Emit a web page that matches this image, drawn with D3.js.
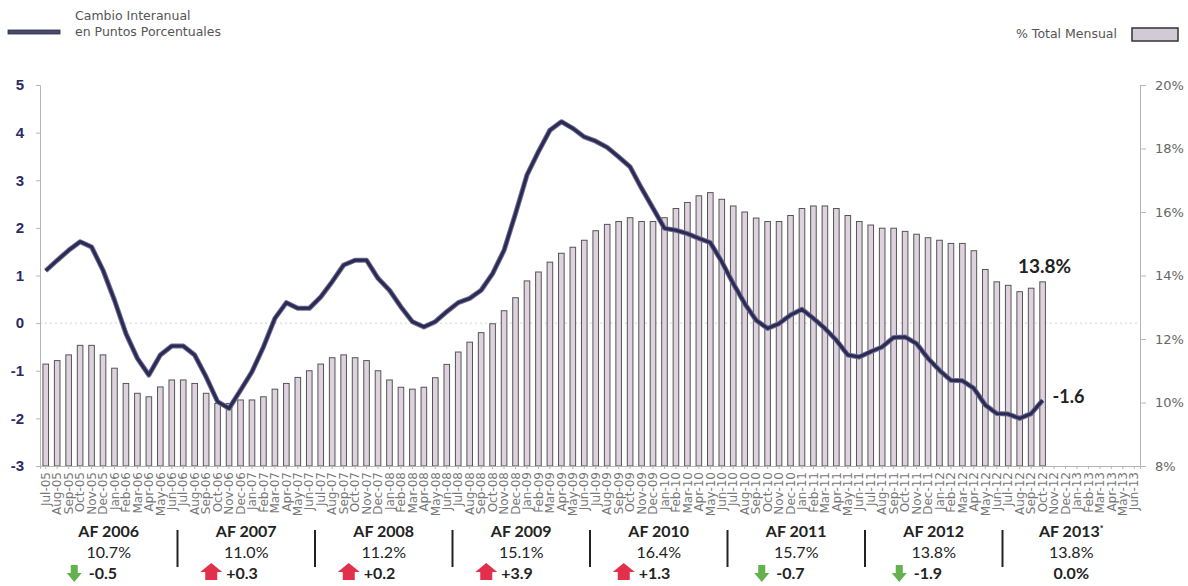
<!DOCTYPE html>
<html>
<head>
<meta charset="utf-8">
<script src="https://cdn.jsdelivr.net/npm/d3@7"></script>
<style>
  body { margin: 0; background: #fff; }
  svg { font-family: "Lato", "Noto Sans", sans-serif; }
</style>
</head>
<body>
<svg id="chart" width="1188" height="586"></svg>
<script>
var months = [
  "Jul-05","Aug-05","Sep-05","Oct-05","Nov-05","Dec-05","Jan-06","Feb-06","Mar-06","Apr-06","May-06","Jun-06",
  "Jul-06","Aug-06","Sep-06","Oct-06","Nov-06","Dec-06","Jan-07","Feb-07","Mar-07","Apr-07","May-07","Jun-07",
  "Jul-07","Aug-07","Sep-07","Oct-07","Nov-07","Dec-07","Jan-08","Feb-08","Mar-08","Apr-08","May-08","Jun-08",
  "Jul-08","Aug-08","Sep-08","Oct-08","Nov-08","Dec-08","Jan-09","Feb-09","Mar-09","Apr-09","May-09","Jun-09",
  "Jul-09","Aug-09","Sep-09","Oct-09","Nov-09","Dec-09","Jan-10","Feb-10","Mar-10","Apr-10","May-10","Jun-10",
  "Jul-10","Aug-10","Sep-10","Oct-10","Nov-10","Dec-10","Jan-11","Feb-11","Mar-11","Apr-11","May-11","Jun-11",
  "Jul-11","Aug-11","Sep-11","Oct-11","Nov-11","Dec-11","Jan-12","Feb-12","Mar-12","Apr-12","May-12","Jun-12",
  "Jul-12","Aug-12","Sep-12","Oct-12","Nov-12","Dec-12","Jan-13","Feb-13","Mar-13","Apr-13","May-13","Jun-13"
];

// % total mensual (right axis), Jul-05 .. Oct-12
var sharePct = [
  11.21, 11.32, 11.50, 11.80, 11.80, 11.50, 11.08, 10.60, 10.29, 10.18, 10.49, 10.71,
  10.71, 10.60, 10.29,  9.97,  9.97, 10.08, 10.08, 10.18, 10.42, 10.60, 10.79, 11.00,
  11.21, 11.41, 11.50, 11.41, 11.32, 11.00, 10.71, 10.48, 10.42, 10.48, 10.78, 11.20,
  11.59, 11.90, 12.20, 12.48, 12.89, 13.30, 13.83, 14.11, 14.42, 14.70, 14.89, 15.11,
  15.41, 15.61, 15.70, 15.82, 15.70, 15.70, 15.82, 16.11, 16.30, 16.51, 16.61, 16.40,
  16.19, 16.00, 15.81, 15.70, 15.70, 15.89, 16.11, 16.19, 16.19, 16.11, 15.89, 15.70,
  15.59, 15.49, 15.49, 15.39, 15.30, 15.19, 15.11, 15.01, 15.01, 14.78, 14.19, 13.80,
  13.69, 13.49, 13.60, 13.80
];

// cambio interanual en puntos porcentuales (left axis)
var changePts = [
   1.10,  1.32,  1.53,  1.71,  1.60,  1.11,  0.48, -0.22, -0.74, -1.09, -0.67, -0.48,
  -0.48, -0.67, -1.13, -1.65, -1.79, -1.41, -1.02, -0.50,  0.10,  0.43,  0.31,  0.31,
   0.55,  0.87,  1.22,  1.32,  1.32,  0.94,  0.69,  0.34,  0.03, -0.08,  0.03,  0.24,
   0.43,  0.52,  0.69,  1.04,  1.53,  2.30,  3.11,  3.60,  4.05,  4.23,  4.09,  3.91,
   3.82,  3.69,  3.49,  3.28,  2.83,  2.41,  1.99,  1.95,  1.88,  1.78,  1.69,  1.29,
   0.83,  0.41,  0.06, -0.11, -0.01,  0.17,  0.29,  0.10, -0.11, -0.36, -0.67, -0.71,
  -0.60, -0.50, -0.30, -0.29, -0.43, -0.74, -0.99, -1.20, -1.21, -1.37, -1.72, -1.90,
  -1.91, -2.00, -1.90, -1.62
];

var leftTicks = [-3, -2, -1, 0, 1, 2, 3, 4, 5];
var rightTicks = [8, 10, 12, 14, 16, 18, 20];

var fyLabels = ["AF 2006", "AF 2007", "AF 2008", "AF 2009", "AF 2010", "AF 2011", "AF 2012", "AF 2013"];
var fyShare = ["10.7%", "11.0%", "11.2%", "15.1%", "16.4%", "15.7%", "13.8%", "13.8%"];
var fyDelta = [-0.5, 0.3, 0.2, 3.9, 1.3, -0.7, -1.9, 0.0];

var svg = d3.select("#chart");
var plotLeft = 40, plotRight = 1140, plotTop = 85, plotBottom = 466;
var thinFont = "'DejaVu Sans', sans-serif";

var x = d3.scaleBand().domain(months).range([plotLeft, plotRight]);
var yL = d3.scaleLinear().domain([-3, 5]).range([plotBottom, plotTop]);
var yR = d3.scaleLinear().domain([8, 20]).range([plotBottom, plotTop]);
var bw = x.bandwidth();
var cx = function(i) { return x(months[i]) + bw / 2; };

// zero gridline
svg.append("line")
   .attr("x1", plotLeft).attr("x2", plotRight)
   .attr("y1", yL(0)).attr("y2", yL(0))
   .attr("stroke", "#d5d5d5").attr("stroke-dasharray", "2,3");

// bars
svg.selectAll("rect.bar")
   .data(sharePct)
   .enter()
   .append("rect")
   .attr("class", "bar")
   .attr("x", function(d, i) { return cx(i) - 2.8; })
   .attr("width", 5.6)
   .attr("y", function(d) { return yR(d); })
   .attr("height", function(d) { return plotBottom - yR(d); })
   .attr("fill", "#ddd2de")
   .attr("stroke", "#555")
   .attr("stroke-width", 1);

// axes
var axL = svg.append("g")
   .attr("transform", "translate(" + plotLeft + ",0)")
   .call(d3.axisLeft(yL).tickValues(leftTicks).tickSize(4).tickPadding(12)
          .tickFormat(function(d) { return d < 0 ? "-" + Math.abs(d) : d; }));
axL.selectAll("text")
   .attr("fill", "#2b2b66").style("font-size", "15px").style("font-weight", "bold");

var axR = svg.append("g")
   .attr("transform", "translate(" + plotRight + ",0)")
   .call(d3.axisRight(yR).tickValues(rightTicks).tickSize(6).tickPadding(9)
          .tickFormat(function(d) { return d + "%"; }));
axR.selectAll("text")
   .style("font-family", thinFont)
   .attr("fill", "#666").style("font-size", "13px");

var axX = svg.append("g")
   .attr("transform", "translate(0," + plotBottom + ")")
   .call(d3.axisBottom(x).tickSize(3));
axX.selectAll("text")
   .attr("transform", "rotate(-90)")
   .attr("x", -6).attr("y", 0).attr("dy", "0.35em")
   .style("text-anchor", "end")
   .style("font-family", thinFont)
   .attr("fill", "#777").style("font-size", "12px");

svg.selectAll(".domain").attr("stroke", "#b5b5b5");
svg.selectAll(".tick line").attr("stroke", "#b5b5b5");

// line
var line = d3.line()
   .x(function(d, i) { return cx(i); })
   .y(function(d) { return yL(d); });

svg.append("path")
   .datum(changePts)
   .attr("d", line)
   .attr("fill", "none")
   .attr("stroke", "#6e6e92")
   .attr("stroke-width", 5)
   .attr("stroke-linejoin", "round");
svg.append("path")
   .datum(changePts)
   .attr("d", line)
   .attr("fill", "none")
   .attr("stroke", "#2a2a55")
   .attr("stroke-width", 3)
   .attr("stroke-linejoin", "round");

// end labels
var last = sharePct.length - 1;
svg.append("text")
   .attr("x", cx(last) + 2).attr("y", yR(sharePct[last]) - 9)
   .attr("text-anchor", "middle")
   .attr("fill", "#222").style("font-size", "19px").style("font-weight", "bold")
   .text(sharePct[last].toFixed(1) + "%");
svg.append("text")
   .attr("x", cx(last) + 10).attr("y", yL(changePts[last]) + 3)
   .attr("fill", "#222").style("font-size", "18px").style("font-weight", "bold")
   .text(changePts[last].toFixed(1));

// legends
svg.append("rect")
   .attr("x", 8).attr("y", 30).attr("width", 52).attr("height", 4)
   .attr("fill", "#4a4a6c").attr("stroke", "#2a2a4a").attr("stroke-width", 0.8);
svg.append("text").attr("x", 75).attr("y", 20)
   .style("font-family", thinFont)
   .attr("fill", "#555").style("font-size", "12.5px").text("Cambio Interanual");
svg.append("text").attr("x", 75).attr("y", 36)
   .style("font-family", thinFont)
   .attr("fill", "#555").style("font-size", "12.5px").text("en Puntos Porcentuales");

svg.append("text").attr("x", 1117).attr("y", 38)
   .attr("text-anchor", "end")
   .style("font-family", thinFont)
   .attr("fill", "#555").style("font-size", "12.5px").text("% Total Mensual");
svg.append("rect")
   .attr("x", 1132).attr("y", 28).attr("width", 46).attr("height", 13)
   .attr("fill", "#d2cad6").attr("stroke", "#333").attr("stroke-width", 1.5);

// fiscal year summary under the axis
var fy = svg.selectAll("g.fy")
   .data(fyLabels)
   .enter()
   .append("g")
   .attr("class", "fy")
   .attr("transform", function(d, k) { return "translate(" + (plotLeft + (12 * k + 6) * bw) + ",0)"; });

fy.append("text")
   .attr("y", 537).attr("text-anchor", "middle")
   .attr("fill", "#222").style("font-size", "16px").style("font-weight", "bold")
   .text(function(d) { return d; })
   .filter(function(d, k) { return k == fyLabels.length - 1; })
   .append("tspan").attr("dy", -5).style("font-size", "9px").text("*");

fy.append("text")
   .attr("y", 558).attr("text-anchor", "middle")
   .attr("fill", "#222").style("font-size", "16px")
   .text(function(d, k) { return fyShare[k]; });

fy.each(function(d, k) {
  var g = d3.select(this);
  var v = fyDelta[k];
  if (v == 0) {
    g.append("text").attr("y", 579).attr("text-anchor", "middle")
     .attr("fill", "#222").style("font-size", "16px").style("font-weight", "bold")
     .text(v.toFixed(1) + "%");
    return;
  }
  g.append("text").attr("x", -20).attr("y", 579)
   .attr("fill", "#222").style("font-size", "16px").style("font-weight", "bold")
   .text((v > 0 ? "+" : "-") + Math.abs(v).toFixed(1));
  if (v > 0) {
    // red up arrow
    g.append("path")
     .attr("d", "M-35,563 L-24,572 L-29,572 L-29,580 L-41,580 L-41,572 L-46,572 Z")
     .attr("fill", "#e2304c");
  } else {
    // green down arrow
    g.append("path")
     .attr("d", "M-38,565 L-31,565 L-31,573 L-27,573 L-34.5,582 L-42,573 L-38,573 Z")
     .attr("fill", "#63b14f");
  }
});

// separators between fiscal years
svg.selectAll("line.sep")
   .data(d3.range(1, fyLabels.length))
   .enter()
   .append("line")
   .attr("class", "sep")
   .attr("x1", function(k) { return plotLeft + 12 * k * bw; })
   .attr("x2", function(k) { return plotLeft + 12 * k * bw; })
   .attr("y1", 530).attr("y2", 567)
   .attr("stroke", "#222").attr("stroke-width", 2);
</script>
</body>
</html>
